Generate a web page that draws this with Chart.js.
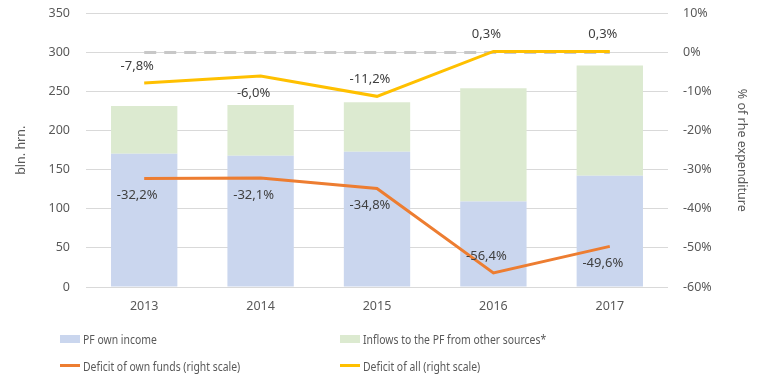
<!DOCTYPE html>
<html>
<head>
<meta charset="utf-8">
<script src="https://cdn.jsdelivr.net/npm/chart.js@4"></script>
<style>
  html, body { margin: 0; padding: 0; background: #fff; overflow: hidden; }
  #wrap { position: relative; width: 763px; height: 383px; overflow: hidden; }
  #box { position: absolute; left: 0; top: -10px; width: 763px; height: 322px; }
  #legend { position: absolute; left: 0; top: 0; width: 763px; height: 383px; pointer-events: none;
            font-family: "Noto Sans", sans-serif; font-size: 13px; color: #595959; }
  .item { position: absolute; white-space: nowrap; line-height: 16px; }
  .sw { display: inline-block; width: 20px; vertical-align: middle; margin-right: 3px; }
  .tx { display: inline-block; vertical-align: middle; transform: scaleX(0.8); transform-origin: left center; }
</style>
</head>
<body>
<div id="wrap">
  <div id="box"><canvas id="chart"></canvas></div>
  <div id="legend"></div>
</div>
<script>
;
(function(window, document) {
    'use strict';

    // data
    let years = ['2013', '2014', '2015', '2016', '2017'];
    let ownIncome = [170.5, 168, 173, 109.5, 142.5];
    let otherInflows = [61, 65, 63.5, 145, 141];
    let deficitOwn = [-32.2, -32.1, -34.8, -56.4, -49.6];
    let deficitAll = [-7.8, -6.0, -11.2, 0.3, 0.3];
    let zeroLine = [0, 0, 0, 0, 0];
    let leftTicks = [0, 50, 100, 150, 200, 250, 300, 350];
    let rightTicks = [-60, -50, -40, -30, -20, -10, 0, 10];

    let textColor = '#595959';
    let fontFamily = '"Noto Sans", sans-serif';

    // label placement per point: -1 above, 1 below
    let ownLabelSide = [1, 1, 1, -1, 1];
    let allLabelSide = [-1, 1, -1, -1, -1];

    let pctLabels = {
        id: 'pctLabels',
        afterDatasetsDraw: function(chart) {
            let ctx = chart.ctx;
            ctx.save();
            ctx.font = '13px ' + fontFamily;
            ctx.fillStyle = '#404040';
            ctx.textAlign = 'center';
            ctx.textBaseline = 'middle';
            chart.data.datasets.forEach(function(ds, i) {
                if (!ds.sides) return;
                let meta = chart.getDatasetMeta(i);
                meta.data.forEach(function(pt, j) {
                    let txt = ds.data[j].toFixed(1).replace('.', ',') + '%';
                    ctx.fillText(txt, pt.x - 7, pt.y + ds.sides[j] * 17);
                });
            });
            ctx.restore();
        }
    };

    let ctx = document.getElementById('chart');
    let chart = new Chart(ctx, {
        type: 'bar',
        data: {
            labels: years,
            datasets: [
                {
                    type: 'line', label: 'Deficit of all (right scale)', data: deficitAll,
                    yAxisID: 'y1', borderColor: '#FFC000', backgroundColor: '#FFC000',
                    borderWidth: 3, pointRadius: 0, order: 0, sides: allLabelSide
                },
                {
                    type: 'line', label: 'Deficit of own funds (right scale)', data: deficitOwn,
                    yAxisID: 'y1', borderColor: '#ED7D31', backgroundColor: '#ED7D31',
                    borderWidth: 3, pointRadius: 0, order: 1, sides: ownLabelSide
                },
                {
                    type: 'line', label: 'zero', data: zeroLine,
                    yAxisID: 'y1', borderColor: '#C8C8C8', borderDash: [12, 8],
                    borderWidth: 3, pointRadius: 0, order: 2
                },
                {
                    label: 'PF own income', data: ownIncome, backgroundColor: '#CAD6EE',
                    yAxisID: 'y', order: 3, stack: 's'
                },
                {
                    label: 'Inflows to the PF from other sources*', data: otherInflows,
                    backgroundColor: '#DCEAD0', yAxisID: 'y', order: 4, stack: 's'
                }
            ]
        },
        options: {
            responsive: true,
            maintainAspectRatio: false,
            animation: false,
            categoryPercentage: 1,
            barPercentage: 0.57,
            layout: { padding: { top: 4, left: 0, right: 0, bottom: 0 } },
            plugins: {
                legend: { display: false },
                tooltip: { enabled: false }
            },
            scales: {
                x: {
                    stacked: true,
                    grid: { display: false },
                    border: { display: false },
                    ticks: { color: textColor, font: { family: fontFamily, size: 12.5 }, padding: 4 },
                    afterFit: function(s) { s.height = 25; }
                },
                y: {
                    stacked: true,
                    position: 'left',
                    min: 0, max: 350,
                    afterBuildTicks: function(s) { s.ticks = leftTicks.map(function(v) { return { value: v }; }); },
                    grid: { color: '#D9D9D9', lineWidth: 1, drawTicks: false },
                    border: { display: false },
                    ticks: { color: textColor, font: { family: fontFamily, size: 12.5 }, padding: 16 },
                    title: { display: true, text: 'bln. hrn.', color: textColor,
                             font: { family: fontFamily, size: 12.5 }, padding: { top: 14, bottom: 0 } },
                    afterFit: function(s) { s.width = 86; }
                },
                y1: {
                    position: 'right',
                    min: -60, max: 10,
                    afterBuildTicks: function(s) { s.ticks = rightTicks.map(function(v) { return { value: v }; }); },
                    grid: { display: false, drawTicks: false },
                    border: { display: false },
                    ticks: { color: textColor, font: { family: fontFamily, size: 12.5 }, padding: 15,
                             callback: function(v) { return v + '%'; } },
                    title: { display: true, text: '% of rhe expenditure', color: textColor,
                             font: { family: fontFamily, size: 12.5 }, padding: { top: 14, bottom: 0 } },
                    afterFit: function(s) { s.width = 95; }
                }
            }
        },
        plugins: [pctLabels]
    });

    // html legend in two columns
    let legendItems = [
        { label: chart.data.datasets[3].label, color: '#CAD6EE', kind: 'box', x: 60, y: 329 },
        { label: chart.data.datasets[4].label, color: '#DCEAD0', kind: 'box', x: 340, y: 329 },
        { label: chart.data.datasets[1].label, color: '#ED7D31', kind: 'line', x: 60, y: 356 },
        { label: chart.data.datasets[0].label, color: '#FFC000', kind: 'line', x: 340, y: 356 }
    ];
    let legend = document.getElementById('legend');
    legendItems.forEach(function(it) {
        let d = document.createElement('div');
        d.className = 'item';
        d.style.left = it.x + 'px';
        d.style.top = it.y + 'px';
        let sw = document.createElement('span');
        sw.className = 'sw';
        sw.style.background = it.color;
        sw.style.height = it.kind === 'box' ? '8px' : '3px';
        d.appendChild(sw);
        let tx = document.createElement('span');
        tx.className = 'tx';
        tx.textContent = it.label;
        d.appendChild(tx);
        legend.appendChild(d);
    });

})(window, document);
</script>
</body>
</html>
